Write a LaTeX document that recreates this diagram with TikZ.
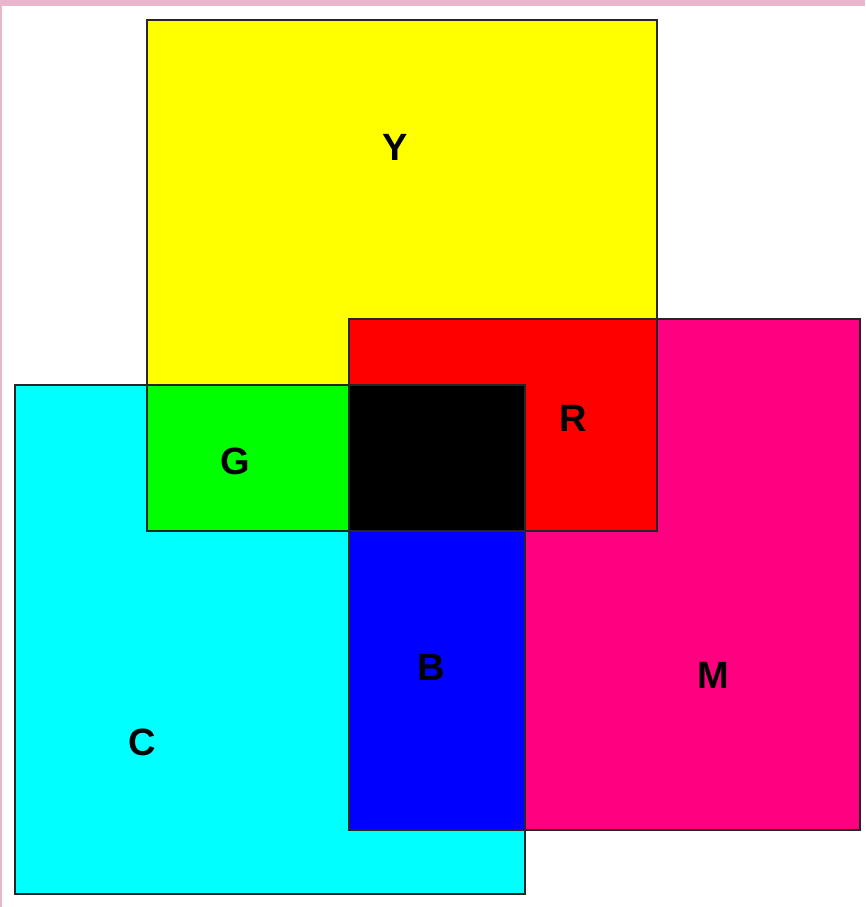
\documentclass[tikz,border=0pt]{standalone}
\usepackage{fontspec}
\setmainfont{Liberation Sans}
\definecolor{cmypink}{RGB}{234,182,206}
\definecolor{cmyyellow}{RGB}{255,255,0}
\definecolor{cmymagenta}{RGB}{255,0,128}
\definecolor{cmycyan}{RGB}{0,255,255}
\definecolor{cmygreen}{RGB}{0,255,0}
\definecolor{cmyred}{RGB}{255,0,0}
\definecolor{cmyblue}{RGB}{0,0,255}
\tikzset{
    cmyedge/.style={draw=black!85, line width=1.5pt},
    cmylabel/.style={font=\fontsize{38}{38}\selectfont\bfseries, inner sep=0pt}
}

\begin{document}
\begin{tikzpicture}[x=1pt, y=-1pt]
        \useasboundingbox (0,0) rectangle (865,907);
        \fill[white] (0,0) rectangle (865,907);
        \fill[cmypink] (0,0) rectangle (865,6);
        \fill[cmypink] (0,0) rectangle (2,907);

        % the three squares
        \fill[cmyyellow] (147,20) rectangle (657,531);
        \fill[cmymagenta] (349,319) rectangle (860,830);
        \fill[cmycyan] (15,385) rectangle (525,894);

        % overlaps
        \fill[cmygreen] (147,385) rectangle (349,531);
        \fill[cmyred] (349,319) rectangle (657,531);
        \fill[cmyblue] (349,531) rectangle (525,830);
        \fill[black] (349,385) rectangle (525,531);

        \draw[cmyedge] (147,20) rectangle (657,531);
        \draw[cmyedge] (349,319) rectangle (860,830);
        \draw[cmyedge] (15,385) rectangle (525,894);

        \node[cmylabel] (yellow) at (395,147) {Y};
        \node[cmylabel] (red) at (573,418) {R};
        \node[cmylabel] (green) at (235,461) {G};
        \node[cmylabel] (blue) at (431,667) {B};
        \node[cmylabel] (magenta) at (713,675) {M};
        \node[cmylabel] (cyan) at (142,742) {C};
    \end{tikzpicture}
\end{document}
